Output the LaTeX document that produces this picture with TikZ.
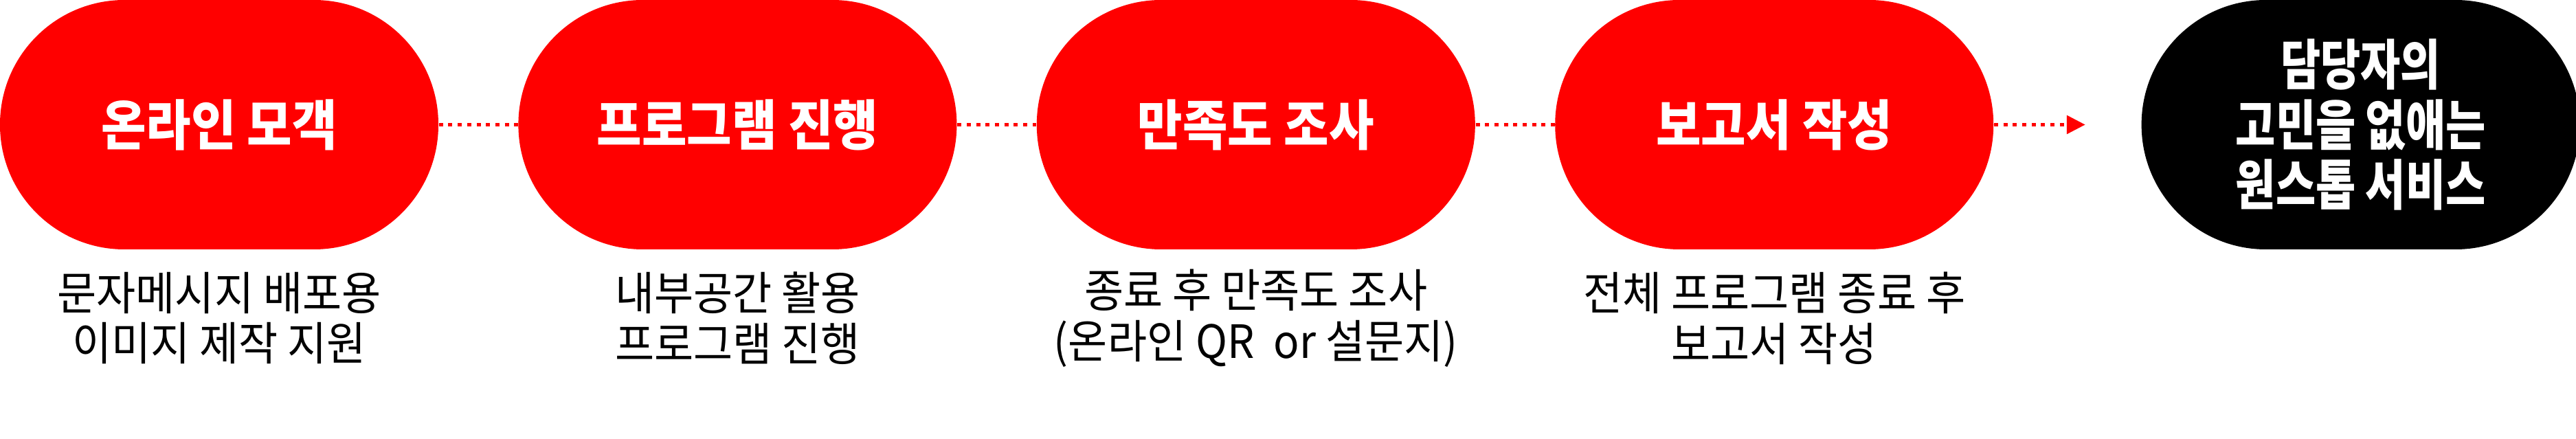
\documentclass[tikz,border=0pt]{standalone}
\usepackage{fontspec}
\usetikzlibrary{arrows.meta, positioning, calc}

\newfontfamily\pillfont[FakeStretch=0.90]{Noto Sans CJK KR}
\newfontfamily\goalfont[FakeStretch=0.80]{Noto Sans CJK KR}
\newfontfamily\notefont[FakeStretch=0.93]{Noto Sans CJK KR}
\definecolor{stagered}{RGB}{255,0,0}

\tikzset{
    stage/.style={
        rectangle,
        rounded corners=1.81cm,
        fill=stagered,
        minimum width=6.38cm,
        minimum height=3.63cm,
        inner sep=0pt,
        text=white,
        font=\pillfont\bfseries\fontsize{22.5}{25}\selectfont
    },
    goal/.style={
        stage,
        fill=black,
        align=center,
        font=\goalfont\bfseries\fontsize{22.5}{24.9}\selectfont
    },
    note/.style={
        align=center,
        font=\notefont\fontsize{19}{21}\selectfont
    },
    link/.style={
        draw=stagered,
        line width=1.7pt,
        dash pattern=on 1.7pt off 2.2pt
    }
}

\begin{document}
\begin{tikzpicture}
    \useasboundingbox (0,0) rectangle (37.49,-6.39);

    % stages
    \node[stage] (online) at (3.19,-1.815) {온라인 모객};
    \node[stage, right=1.15cm of online] (program) {프로그램 진행};
    \node[stage, right=1.15cm of program] (survey) {만족도 조사};
    \node[stage, right=1.15cm of survey] (report) {보고서 작성};
    \node[goal, right=2.14cm of report] (goal) {담당자의\\고민을 없애는\\원스톱 서비스};

    % details under each stage
    \node[note] (onlinenote) at ($(online)+(0,-2.815)$) {문자메시지 배포용\\이미지 제작 지원};
    \node[note] (programnote) at ($(program)+(0,-2.815)$) {내부공간 활용\\프로그램 진행};
    \node[note] (surveynote) at ($(survey)+(0,-2.815)$) {종료 후 만족도 조사\\(온라인 QR\ \ or 설문지)};
    \node[note] (reportnote) at ($(report)+(0,-2.815)$) {전체 프로그램 종료 후\\보고서 작성};

    % links
    \coordinate[left=0.81cm of goal.west] (goalin);
    \draw[link] (online) -- (program);
    \draw[link] (program) -- (survey);
    \draw[link] (survey) -- (report);
    \draw[link, -{Triangle[length=7.7pt, width=7.4pt]}] (report) -- (goalin);
\end{tikzpicture}
\end{document}
